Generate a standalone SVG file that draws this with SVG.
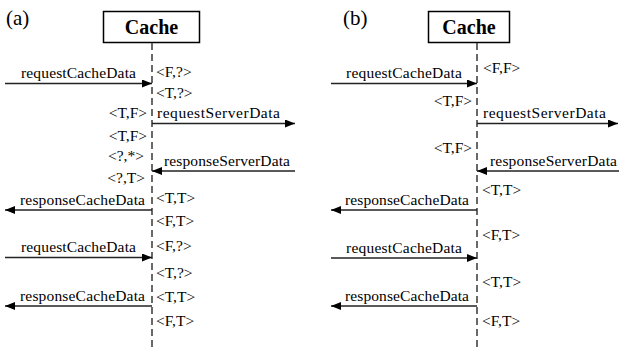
<svg xmlns="http://www.w3.org/2000/svg" width="619" height="347" viewBox="0 0 619 347">
<style>
text{font-family:'Liberation Serif','Times New Roman',serif;fill:#000;font-size:15.5px}
.title{font-size:20px;font-weight:bold}
.panel{font-size:21px}
.box{fill:#fff;stroke:#000;stroke-width:1.5}
.life{stroke:#444;stroke-width:1.6;stroke-dasharray:7,4;fill:none}
.msg{stroke:#222;stroke-width:1.3;fill:none}
</style>
<defs>
<marker id="ah" viewBox="0 0 10 8" refX="10" refY="4" markerWidth="10" markerHeight="8" markerUnits="userSpaceOnUse" orient="auto">
<path d="M0,0 L10,4 L0,8 Z" fill="#000"/>
</marker>
</defs>
<text class="panel" x="6" y="25">(a)</text>
<text class="panel" x="343" y="25">(b)</text>
<g id="cacheA">
<rect class="box" x="103.5" y="11.5" width="96" height="31"/>
<text class="title" x="151.5" y="34" text-anchor="middle">Cache</text>
<line class="life" x1="152" y1="43" x2="152" y2="347"/>
</g>
<g id="cacheB">
<rect class="box" x="428.5" y="11.5" width="81" height="31"/>
<text class="title" x="469" y="34" text-anchor="middle">Cache</text>
<line class="life" x1="477" y1="43" x2="477" y2="347"/>
</g>
<g id="connectors">
<line class="msg" x1="5" y1="83.5" x2="152" y2="83.5" marker-end="url(#ah)"/>
<line class="msg" x1="152" y1="123.5" x2="295" y2="123.5" marker-end="url(#ah)"/>
<line class="msg" x1="295" y1="171" x2="152" y2="171" marker-end="url(#ah)"/>
<line class="msg" x1="152" y1="210" x2="5" y2="210" marker-end="url(#ah)"/>
<line class="msg" x1="5" y1="257.5" x2="152" y2="257.5" marker-end="url(#ah)"/>
<line class="msg" x1="152" y1="306" x2="5" y2="306" marker-end="url(#ah)"/>
<line class="msg" x1="331" y1="83.5" x2="477" y2="83.5" marker-end="url(#ah)"/>
<line class="msg" x1="477" y1="123.5" x2="618" y2="123.5" marker-end="url(#ah)"/>
<line class="msg" x1="619" y1="171" x2="477" y2="171" marker-end="url(#ah)"/>
<line class="msg" x1="477" y1="210" x2="331" y2="210" marker-end="url(#ah)"/>
<line class="msg" x1="331" y1="258" x2="477" y2="258" marker-end="url(#ah)"/>
<line class="msg" x1="477" y1="306" x2="331" y2="306" marker-end="url(#ah)"/>
</g>
<g id="labelsA">
<text x="21" y="78" textLength="115">requestCacheData</text>
<text x="157" y="118" textLength="123">requestServerData</text>
<text x="164" y="166" textLength="126">responseServerData</text>
<text x="20" y="205" textLength="125">responseCacheData</text>
<text x="21" y="252" textLength="115">requestCacheData</text>
<text x="20" y="301" textLength="125">responseCacheData</text>
<text x="156" y="77">&lt;F,?&gt;</text>
<text x="156" y="98">&lt;T,?&gt;</text>
<text x="147" y="118" text-anchor="end">&lt;T,F&gt;</text>
<text x="147" y="141" text-anchor="end">&lt;T,F&gt;</text>
<text x="144" y="161" text-anchor="end">&lt;?,*&gt;</text>
<text x="145" y="183" text-anchor="end">&lt;?,T&gt;</text>
<text x="156" y="203">&lt;T,T&gt;</text>
<text x="156" y="226">&lt;F,T&gt;</text>
<text x="156" y="251">&lt;F,?&gt;</text>
<text x="156" y="278">&lt;T,?&gt;</text>
<text x="156" y="302">&lt;T,T&gt;</text>
<text x="156" y="326">&lt;F,T&gt;</text>
</g>
<g id="labelsB">
<text x="346" y="78" textLength="116">requestCacheData</text>
<text x="483" y="118" textLength="123">requestServerData</text>
<text x="490" y="166" textLength="127">responseServerData</text>
<text x="345" y="205" textLength="124">responseCacheData</text>
<text x="346" y="253" textLength="116">requestCacheData</text>
<text x="345" y="301" textLength="124">responseCacheData</text>
<text x="483" y="73">&lt;F,F&gt;</text>
<text x="472" y="106" text-anchor="end">&lt;T,F&gt;</text>
<text x="472" y="153" text-anchor="end">&lt;T,F&gt;</text>
<text x="482" y="195">&lt;T,T&gt;</text>
<text x="482" y="240">&lt;F,T&gt;</text>
<text x="482" y="287">&lt;T,T&gt;</text>
<text x="482" y="326">&lt;F,T&gt;</text>
</g>
</svg>
